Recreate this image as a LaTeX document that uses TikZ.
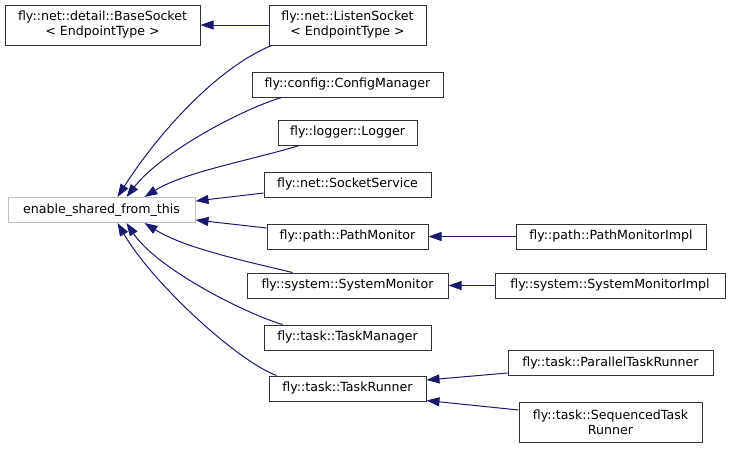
\documentclass[tikz,border=0pt]{standalone}
\usepackage{fontspec}
\setmainfont{DejaVu Sans}
\usetikzlibrary{arrows.meta}
\definecolor{edgeblue}{RGB}{25,25,112}

\begin{document}
\begin{tikzpicture}[x=1pt,y=-1pt,
  cls/.style={draw=black!80,line width=1pt,fill=white,inner sep=0pt,align=center,minimum height=25pt,font=\fontsize{12.6}{15}\selectfont},
  ext/.style={cls,draw=black!25},
  inh/.style={draw=edgeblue,line width=1pt,-{Triangle[length=13pt,width=9pt]}}]
\useasboundingbox (0,0) rectangle (731,448);
% classes
\node[cls,minimum width=195pt,minimum height=40pt] (base) at (102.5,25) {fly::net::detail::BaseSocket\\< EndpointType >};
\node[cls,minimum width=157pt,minimum height=40pt] (listen) at (347.5,25) {fly::net::ListenSocket\\< EndpointType >};
\node[cls,minimum width=191pt] (config) at (347.5,84.5) {fly::config::ConfigManager};
\node[cls,minimum width=139pt] (logger) at (347.5,132.5) {fly::logger::Logger};
\node[cls,minimum width=167pt] (sock) at (347.5,184.5) {fly::net::SocketService};
\node[ext,minimum width=187pt] (esft) at (101.5,210) {enable\_shared\_from\_this};
\node[cls,minimum width=161pt] (path) at (347.5,236.5) {fly::path::PathMonitor};
\node[cls,minimum width=190pt] (pmimpl) at (611,236.5) {fly::path::PathMonitorImpl};
\node[cls,minimum width=201pt] (sysmon) at (347.5,285.5) {fly::system::SystemMonitor};
\node[cls,minimum width=230pt] (smimpl) at (610,285.5) {fly::system::SystemMonitorImpl};
\node[cls,minimum width=167pt] (taskmgr) at (347.5,337.5) {fly::task::TaskManager};
\node[cls,minimum width=157pt] (runner) at (347.5,388.5) {fly::task::TaskRunner};
\node[cls,minimum width=205pt] (par) at (610.5,363) {fly::task::ParallelTaskRunner};
\node[cls,minimum width=183pt,minimum height=40pt] (seq) at (610.5,422) {fly::task::SequencedTask\\Runner};
% inheritance
\draw[inh] (listen.west) -- (base.east);
\draw[inh] ([xshift=3pt]listen.south west) .. controls +(-60,25) and +(35,-55) .. ([xshift=16pt]esft.north);
\draw[inh] ([xshift=30pt]config.south west) .. controls +(-40,12) and +(35,-45) .. ([xshift=25pt]esft.north);
\draw[inh] ([xshift=22pt]logger.south west) .. controls +(-50,15) and +(40,-25) .. ([xshift=43pt]esft.north);
\draw[inh] ([yshift=-8.5pt]sock.west) -- ([yshift=9pt]esft.east);
\draw[inh] ([yshift=8.5pt]path.west) -- ([yshift=-10pt]esft.east);
\draw[inh] ([xshift=46pt]sysmon.north west) .. controls +(-50,-12) and +(40,25) .. ([xshift=43pt]esft.south);
\draw[inh] ([xshift=19pt]taskmgr.north west) .. controls +(-40,-12) and +(30,45) .. ([xshift=25pt]esft.south);
\draw[inh] ([xshift=8pt]runner.north west) .. controls +(-40,-15) and +(35,60) .. ([xshift=16pt]esft.south);
\draw[inh] (pmimpl.west) -- (path.east);
\draw[inh] (smimpl.west) -- (sysmon.east);
\draw[inh] ([yshift=-10pt]par.west) -- ([yshift=8.5pt]runner.east);
\draw[inh] ([yshift=12pt]seq.west) -- ([yshift=-12pt]runner.east);
\end{tikzpicture}
\end{document}
